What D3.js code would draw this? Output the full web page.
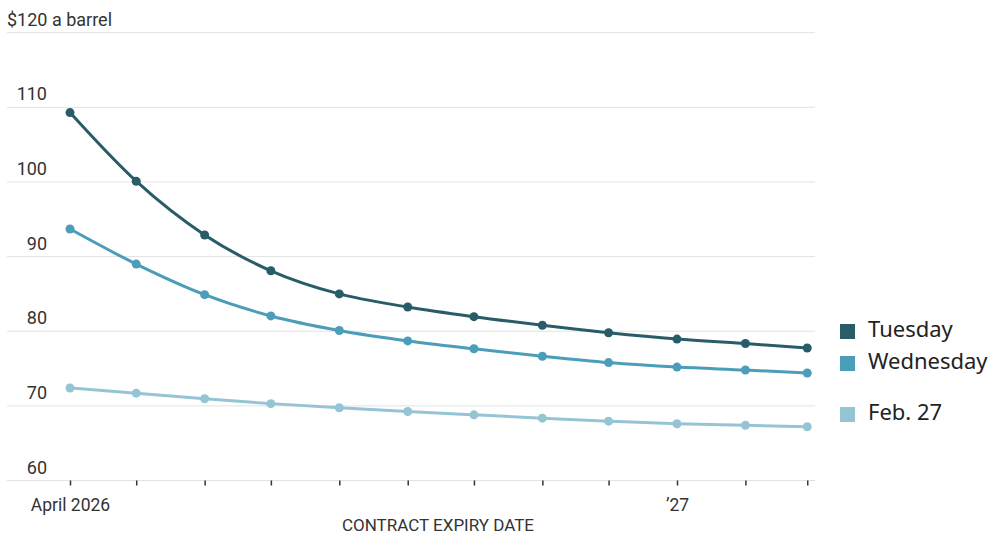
<!DOCTYPE html>
<html>
<head>
  <meta charset="utf-8">
  <title>Oil futures curve</title>
  <script src="https://d3js.org/d3.v7.min.js"></script>
  <style>
    body { margin: 0; background: #fff; }
    svg { display: block; }
    .grid line { stroke: #e2e2e2; stroke-width: 1; }
    .axis text { font-family: Roboto, sans-serif; fill: #333; }
    .legend text { font-family: "Noto Sans", sans-serif; fill: #222; }
  </style>
</head>
<body>
<svg width="1000" height="545"></svg>
<script>
  // contract months, April 2026 to March 2027
  const months = [
    '2026-04-01', '2026-05-01', '2026-06-01', '2026-07-01', '2026-08-01', '2026-09-01',
    '2026-10-01', '2026-11-01', '2026-12-01', '2027-01-01', '2027-02-01', '2027-03-01'
  ];

  const tuesday   = [109.3, 100.1, 92.9, 88.1, 85.0, 83.25, 81.95, 80.8, 79.8, 78.95, 78.35, 77.75];
  const wednesday = [93.7, 89.0, 84.9, 82.05, 80.1, 78.7, 77.65, 76.65, 75.8, 75.2, 74.8, 74.4];
  const feb27     = [72.4, 71.7, 70.95, 70.3, 69.75, 69.25, 68.8, 68.35, 67.95, 67.6, 67.4, 67.2];

  const seriesNames = ['Tuesday', 'Wednesday', 'Feb. 27'];
  const seriesColors = ['#285c68', '#4b9db9', '#95c5d5'];
  const yTicks = [60, 70, 80, 90, 100, 110, 120];

  const parse = d3.timeParse('%Y-%m-%d');
  const dates = months.map(parse);
  const series = [tuesday, wednesday, feb27].map((vals, i) => ({
    name: seriesNames[i],
    color: seriesColors[i],
    points: vals.map((v, j) => ({ date: dates[j], value: v }))
  }));

  const svg = d3.select('svg');

  const x = d3.scaleTime()
    .domain([dates[0], dates[9]])
    .range([70, 677]);

  const y = d3.scaleLinear()
    .domain([60, 120])
    .range([480.5, 32.7]);

  // horizontal gridlines
  svg.append('g')
    .attr('class', 'grid')
    .selectAll('line')
    .data(yTicks)
    .enter().append('line')
    .attr('x1', 7)
    .attr('x2', 815)
    .attr('y1', d => y(d))
    .attr('y2', d => y(d));

  // y labels sit on top of their gridlines
  svg.append('g')
    .attr('class', 'axis')
    .selectAll('text')
    .data(yTicks)
    .enter().append('text')
    .attr('x', d => d === 120 ? 7 : 47)
    .attr('y', d => y(d) - 7)
    .attr('text-anchor', d => d === 120 ? 'start' : 'end')
    .attr('font-size', 18)
    .text(d => d === 120 ? '$120 a barrel' : d);

  // month ticks
  const xAxis = d3.axisBottom(x)
    .tickValues(dates)
    .tickSize(5)
    .tickFormat(d => {
      if (+d === +dates[0]) return 'April 2026';
      if (+d === +dates[9]) return '\u201927';
      return '';
    });

  const gx = svg.append('g')
    .attr('class', 'axis')
    .attr('transform', `translate(0,${y(60)})`)
    .call(xAxis);
  gx.select('.domain').remove();
  gx.selectAll('.tick line').attr('stroke', '#333').attr('stroke-width', 1.5);
  gx.selectAll('.tick text')
    .attr('font-size', 17.5)
    .attr('font-family', 'Roboto, sans-serif')
    .attr('fill', '#333')
    .attr('dy', '1.3em');

  svg.append('text')
    .attr('x', 438)
    .attr('y', 531)
    .attr('text-anchor', 'middle')
    .attr('font-size', 17)
    .attr('font-family', 'Roboto, sans-serif')
    .attr('fill', '#333')
    .text('CONTRACT EXPIRY DATE');

  const line = d3.line()
    .x(d => x(d.date))
    .y(d => y(d.value))
    .curve(d3.curveMonotoneX);

  // draw lightest first so darker lines sit on top
  const sg = svg.append('g')
    .selectAll('g')
    .data(series.slice().reverse())
    .enter().append('g');

  sg.append('path')
    .attr('d', d => line(d.points))
    .attr('fill', 'none')
    .attr('stroke', d => d.color)
    .attr('stroke-width', 3);

  sg.selectAll('circle')
    .data(d => d.points.map(p => ({ ...p, color: d.color })))
    .enter().append('circle')
    .attr('cx', d => x(d.date))
    .attr('cy', d => y(d.value))
    .attr('r', 4.5)
    .attr('fill', d => d.color);

  // legend
  const legendY = [331, 363, 414];
  const legend = svg.append('g')
    .attr('class', 'legend')
    .selectAll('g')
    .data(series)
    .enter().append('g')
    .attr('transform', (d, i) => `translate(840,${legendY[i]})`);

  legend.append('rect')
    .attr('x', 0)
    .attr('y', -7)
    .attr('width', 15)
    .attr('height', 15)
    .attr('fill', d => d.color);

  legend.append('text')
    .attr('x', 28)
    .attr('y', -2)
    .attr('dy', '0.35em')
    .attr('font-size', 22)
    .text(d => d.name);
</script>
</body>
</html>
